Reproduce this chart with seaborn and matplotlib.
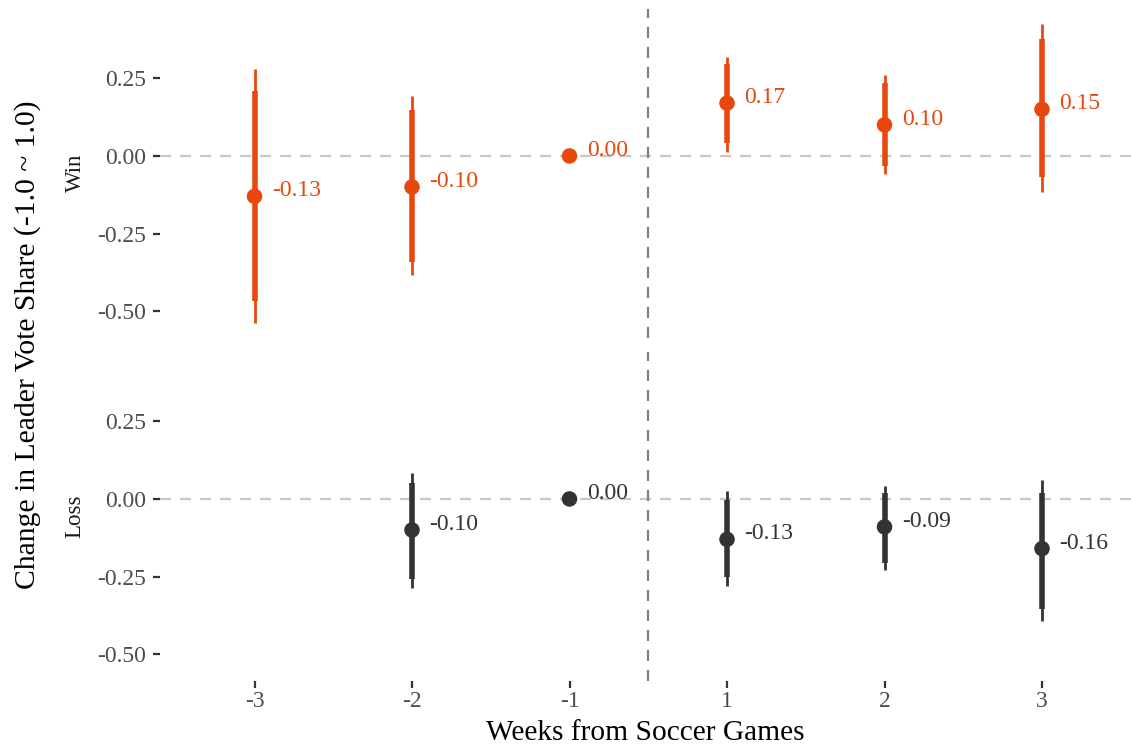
import matplotlib
matplotlib.use("Agg")
import matplotlib.pyplot as plt
import seaborn as sns
import pandas as pd
import numpy as np

# ---------------- data ----------------
weeks = ["-3", "-2", "-1", "1", "2", "3"]

win_weeks = ["-3", "-2", "-1", "1", "2", "3"]
win_est = [-0.13, -0.10, 0.00, 0.17, 0.10, 0.15]
win_lo90 = [-0.466, -0.341, np.nan, 0.041, -0.031, -0.067]
win_hi90 = [0.210, 0.148, np.nan, 0.295, 0.234, 0.375]
win_lo95 = [-0.538, -0.383, np.nan, 0.012, -0.058, -0.115]
win_hi95 = [0.279, 0.193, np.nan, 0.320, 0.260, 0.424]

loss_weeks = ["-2", "-1", "1", "2", "3"]
loss_est = [-0.10, 0.00, -0.13, -0.09, -0.16]
loss_lo90 = [-0.258, np.nan, -0.250, -0.207, -0.355]
loss_hi90 = [0.050, np.nan, -0.003, 0.020, 0.020]
loss_lo95 = [-0.287, np.nan, -0.280, -0.228, -0.392]
loss_hi95 = [0.083, np.nan, 0.024, 0.042, 0.061]

panels = ["Win", "Loss"]
colors = {"Win": "#E8470E", "Loss": "#333333"}
yticks = [-0.50, -0.25, 0.00, 0.25]

frames = []
for name, wk, est, l90, h90, l95, h95 in [
    ("Win", win_weeks, win_est, win_lo90, win_hi90, win_lo95, win_hi95),
    ("Loss", loss_weeks, loss_est, loss_lo90, loss_hi90, loss_lo95, loss_hi95),
]:
    frames.append(pd.DataFrame({"panel": name, "week": wk, "est": est,
                                "lo90": l90, "hi90": h90, "lo95": l95, "hi95": h95}))
df = pd.concat(frames, ignore_index=True)
df["pos"] = df["week"].map({w: i for i, w in enumerate(weeks)})

# ---------------- style ----------------
sns.set_theme(style="white")
plt.rcParams["font.family"] = ["Liberation Serif", "DejaVu Serif"]

W, H = 1131, 751
fig = plt.figure(figsize=(W / 100, H / 100), dpi=100)

def frac_box(left, top, right, bottom):
    return [left / W, 1 - bottom / H, (right - left) / W, (bottom - top) / H]

ax_win = fig.add_axes(frac_box(160, 9.3, 1131, 338))
ax_loss = fig.add_axes(frac_box(160, 352.3, 1131, 681), sharex=ax_win)
axes = {"Win": ax_win, "Loss": ax_loss}

ylim = (-0.586, 0.472)
xlim = (-0.6, 5.565)

for name in panels:
    ax = axes[name]
    sub = df[df["panel"] == name]
    c = colors[name]
    ax.axhline(0, color="#c8c8c8", lw=1.6, ls=(0, (5, 4)), zorder=0)
    ax.axvline(2.5, color="#7f7f7f", lw=1.6, ls=(0, (5, 4)), zorder=0)
    ci = sub.dropna(subset=["lo95"])
    ax.vlines(ci["pos"], ci["lo95"], ci["hi95"], color=c, lw=2.0, zorder=2)
    ax.vlines(ci["pos"], ci["lo90"], ci["hi90"], color=c, lw=4.0, zorder=3)
    sns.scatterplot(data=sub, x="pos", y="est", ax=ax, color=c, s=125,
                    edgecolor="none", zorder=4, legend=False)
    for _, r in sub.iterrows():
        ax.text(r["pos"] + 0.111, r["est"], f"{r['est']:.2f}", color=c,
                fontsize=17, ha="left", va="baseline", zorder=5)
    ax.set_ylim(*ylim)
    ax.set_xlim(*xlim)
    ax.set_yticks(yticks)
    ax.set_yticklabels([f"{v:.2f}" for v in yticks])
    ax.set_xlabel("")
    ax.set_ylabel("")
    for s in ax.spines.values():
        s.set_visible(False)
    ax.tick_params(axis="y", which="both", left=True, length=5, width=1.6,
                   color="#333333", labelcolor="#4d4d4d", labelsize=17, pad=5)
    ax.grid(False)

ax_loss.set_xticks(range(len(weeks)))
ax_loss.set_xticklabels(weeks)
ax_loss.tick_params(axis="x", bottom=True, length=5, width=1.6, color="#333333",
                    labelcolor="#4d4d4d", labelsize=17, pad=2)
ax_win.tick_params(axis="x", bottom=False, labelbottom=False)

# facet strip labels (left side)
fig.text(75 / W, 1 - 173 / H, "Win", rotation=90, ha="center", va="center",
         fontsize=16.5, color="#1a1a1a")
fig.text(75 / W, 1 - 516 / H, "Loss", rotation=90, ha="center", va="center",
         fontsize=16.5, color="#1a1a1a")

# axis titles
fig.text(28 / W, 1 - 345 / H, "Change in Leader Vote Share (-1.0 ~ 1.0)",
         rotation=90, ha="center", va="center", fontsize=21.3, color="#000000")
fig.text((160 + 1131) / 2 / W, 1 - 733 / H, "Weeks from Soccer Games",
         ha="center", va="center", fontsize=21.2, color="#000000")

fig.savefig("out.png", dpi=100)
